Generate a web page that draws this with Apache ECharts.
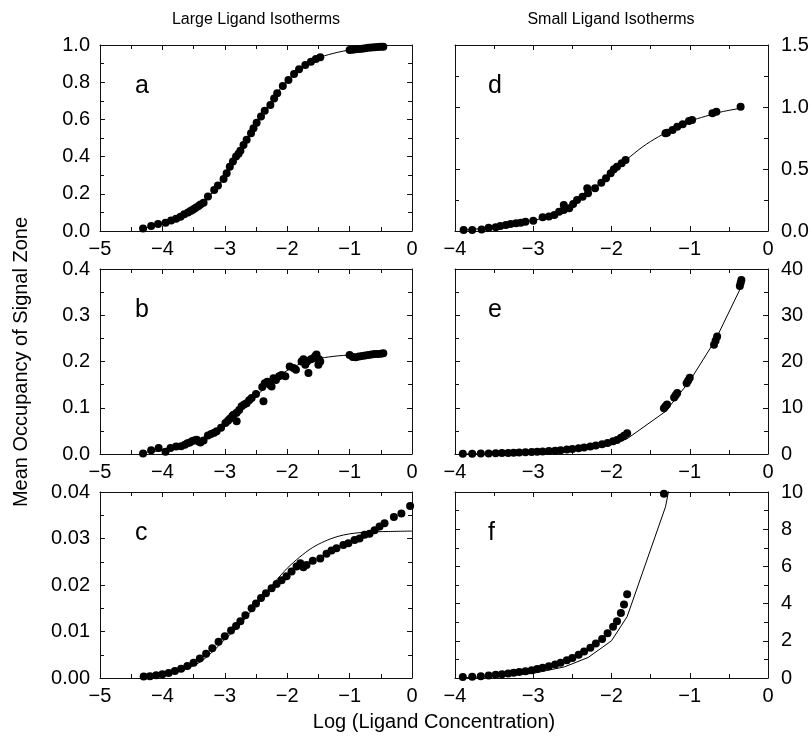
<!DOCTYPE html>
<html><head><meta charset="utf-8">
<script src="https://cdn.jsdelivr.net/npm/echarts@6.0.0/dist/echarts.min.js"></script>
<style>html,body{margin:0;padding:0;background:#fff}#c{width:812px;height:739px}</style>
</head><body><div id="c"></div>
<script>
const panelLetters = ['a','b','c','d','e','f'];
const columnTitles = ['Large Ligand Isotherms','Small Ligand Isotherms'];
const yAxisTitle = 'Mean Occupancy of Signal Zone';
const xAxisTitle = 'Log (Ligand Concentration)';

// panel a
const aPoints = [[-4.31,0.013],[-4.18,0.027],[-4.07,0.038],[-3.95,0.045],[-3.86,0.056],[-3.78,0.066],[-3.71,0.077],[-3.65,0.09],[-3.59,0.10],[-3.55,0.107],[-3.52,0.113],[-3.49,0.12],[-3.46,0.127],[-3.42,0.134],[-3.39,0.142],[-3.34,0.152],[-3.27,0.185],[-3.17,0.22],[-3.11,0.245],[-3.02,0.28],[-2.97,0.31],[-2.92,0.346],[-2.87,0.373],[-2.82,0.40],[-2.78,0.415],[-2.75,0.432],[-2.70,0.462],[-2.65,0.49],[-2.58,0.525],[-2.54,0.552],[-2.49,0.582],[-2.42,0.615],[-2.36,0.647],[-2.27,0.677],[-2.21,0.713],[-2.16,0.74],[-2.07,0.78],[-1.98,0.812],[-1.89,0.844],[-1.81,0.869],[-1.71,0.892],[-1.62,0.91],[-1.54,0.925],[-1.47,0.934],[-1.0,0.973],[-0.95,0.975],[-0.9,0.977],[-0.85,0.979],[-0.8,0.98],[-0.75,0.983],[-0.7,0.985],[-0.65,0.986],[-0.6,0.988],[-0.55,0.989],[-0.5,0.99],[-0.46,0.991]];
const aFit = [[-4.31,0.013],[-4.0,0.042],[-3.7,0.08],[-3.5,0.115],[-3.3,0.17],[-3.1,0.245],[-2.9,0.35],[-2.7,0.46],[-2.5,0.575],[-2.3,0.67],[-2.1,0.77],[-1.9,0.84],[-1.7,0.895],[-1.47,0.934],[-1.2,0.96],[-1.0,0.973],[-0.7,0.985],[-0.46,0.991]];

// panel b
const bPoints = [[-4.31,0.001],[-4.18,0.008],[-4.06,0.013],[-3.95,0.005],[-3.87,0.013],[-3.78,0.016],[-3.70,0.017],[-3.64,0.02],[-3.6,0.023],[-3.56,0.025],[-3.52,0.028],[-3.48,0.03],[-3.45,0.031],[-3.42,0.027],[-3.39,0.025],[-3.34,0.029],[-3.27,0.04],[-3.22,0.043],[-3.17,0.046],[-3.13,0.049],[-3.06,0.057],[-2.99,0.067],[-2.95,0.072],[-2.92,0.076],[-2.88,0.082],[-2.86,0.085],[-2.81,0.089],[-2.81,0.071],[-2.77,0.095],[-2.73,0.103],[-2.69,0.107],[-2.65,0.11],[-2.61,0.116],[-2.57,0.121],[-2.5,0.13],[-2.38,0.114],[-2.4,0.145],[-2.36,0.153],[-2.32,0.156],[-2.28,0.15],[-2.25,0.146],[-2.22,0.164],[-2.18,0.16],[-2.13,0.168],[-2.09,0.171],[-2.03,0.168],[-1.96,0.189],[-1.9,0.186],[-1.86,0.182],[-1.77,0.2],[-1.74,0.205],[-1.71,0.193],[-1.68,0.2],[-1.66,0.175],[-1.62,0.205],[-1.58,0.207],[-1.55,0.212],[-1.53,0.215],[-1.5,0.193],[-1.49,0.205],[-1.47,0.2],[-1.0,0.214],[-0.95,0.21],[-0.9,0.209],[-0.85,0.211],[-0.8,0.212],[-0.75,0.213],[-0.7,0.214],[-0.65,0.215],[-0.6,0.216],[-0.55,0.216],[-0.5,0.217],[-0.46,0.218]];
const bFit = [[-4.31,0.003],[-4.0,0.008],[-3.7,0.017],[-3.5,0.026],[-3.3,0.037],[-3.1,0.052],[-2.9,0.075],[-2.7,0.1],[-2.5,0.125],[-2.3,0.15],[-2.1,0.172],[-1.9,0.188],[-1.7,0.2],[-1.47,0.207],[-1.2,0.212],[-1.0,0.214],[-0.7,0.216],[-0.46,0.217]];

// panel c
const cPoints = [[-4.3,0.0003],[-4.2,0.0004],[-4.1,0.0006],[-4.0,0.0008],[-3.9,0.0011],[-3.8,0.0015],[-3.7,0.002],[-3.6,0.0026],[-3.5,0.0033],[-3.4,0.0042],[-3.3,0.0052],[-3.2,0.0064],[-3.1,0.0078],[-3.0,0.009],[-2.9,0.0102],[-2.82,0.0112],[-2.75,0.0122],[-2.67,0.0135],[-2.57,0.015],[-2.5,0.016],[-2.42,0.0172],[-2.34,0.0182],[-2.25,0.0193],[-2.17,0.0202],[-2.09,0.021],[-2.01,0.0219],[-1.93,0.0229],[-1.85,0.024],[-1.79,0.0247],[-1.74,0.0238],[-1.69,0.0243],[-1.59,0.0252],[-1.47,0.0257],[-1.37,0.0267],[-1.29,0.0274],[-1.21,0.0279],[-1.1,0.0286],[-1.02,0.029],[-0.92,0.0297],[-0.84,0.030],[-0.76,0.0308],[-0.68,0.031],[-0.6,0.0318],[-0.52,0.0326],[-0.44,0.0333],[-0.29,0.0346],[-0.17,0.0354],[-0.03,0.037]];
const cFit = [[-4.3,0.0002],[-4.0,0.0006],[-3.7,0.0015],[-3.4,0.0034],[-3.2,0.0056],[-3.0,0.0083],[-2.8,0.0108],[-2.6,0.014],[-2.4,0.0173],[-2.2,0.0206],[-2.0,0.0236],[-1.8,0.026],[-1.6,0.028],[-1.4,0.0294],[-1.2,0.0304],[-1.0,0.031],[-0.7,0.0314],[-0.4,0.0315],[0,0.0316]];

// panel d
const dPoints = [[-3.89,0.008],[-3.78,0.008],[-3.66,0.013],[-3.57,0.027],[-3.48,0.03],[-3.42,0.04],[-3.35,0.048],[-3.29,0.056],[-3.22,0.062],[-3.16,0.067],[-3.10,0.075],[-3.0,0.083],[-2.88,0.11],[-2.80,0.116],[-2.73,0.129],[-2.67,0.156],[-2.61,0.21],[-2.61,0.17],[-2.54,0.183],[-2.49,0.218],[-2.44,0.25],[-2.37,0.277],[-2.31,0.344],[-2.30,0.304],[-2.21,0.344],[-2.13,0.39],[-2.07,0.425],[-2.01,0.465],[-1.97,0.497],[-1.93,0.519],[-1.87,0.546],[-1.82,0.573],[-1.31,0.788],[-1.29,0.793],[-1.22,0.815],[-1.16,0.841],[-1.09,0.86],[-1.01,0.887],[-0.97,0.895],[-0.71,0.949],[-0.66,0.962],[-0.35,1.003]];
const dFit = [[-3.89,0.008],[-3.5,0.03],[-3.0,0.085],[-2.7,0.14],[-2.5,0.215],[-2.3,0.31],[-2.1,0.41],[-1.9,0.53],[-1.8,0.58],[-1.6,0.68],[-1.4,0.76],[-1.2,0.825],[-1.0,0.885],[-0.8,0.925],[-0.6,0.96],[-0.35,0.99]];

// panels e and f (f is an enlarged view of e)
const ePoints = [[-3.9,0.05],[-3.78,0.07],[-3.67,0.1],[-3.57,0.13],[-3.48,0.17],[-3.4,0.2],[-3.32,0.24],[-3.25,0.28],[-3.18,0.32],[-3.1,0.36],[-3.02,0.42],[-2.95,0.48],[-2.88,0.55],[-2.8,0.63],[-2.72,0.72],[-2.65,0.82],[-2.57,0.95],[-2.5,1.08],[-2.42,1.25],[-2.35,1.42],[-2.27,1.62],[-2.2,1.85],[-2.12,2.1],[-2.05,2.4],[-1.98,2.75],[-1.93,3.05],[-1.88,3.5],[-1.84,3.95],[-1.8,4.5],[-1.33,9.9],[-1.31,10.3],[-1.29,10.7],[-1.2,12.2],[-1.18,12.7],[-1.16,13.2],[-1.04,15.3],[-1.02,15.9],[-1.0,16.5],[-0.69,23.6],[-0.67,24.5],[-0.65,25.4],[-0.36,36.3],[-0.35,37.0],[-0.34,37.6]];
const eFit = [[-3.9,0.02],[-3.5,0.08],[-3.0,0.25],[-2.6,0.6],[-2.3,1.1],[-2.0,2.0],[-1.8,3.3],[-1.31,9.2],[-1.0,15.8],[-0.67,24.7],[-0.35,35.9]];

const panelPoints = [aPoints,bPoints,cPoints,dPoints,ePoints,ePoints];
const panelFits = [aFit,bFit,cFit,dFit,eFit,eFit];
const xMin = [-5,-5,-5,-4,-4,-4];
const yMax = [1.0,0.4,0.04,1.5,40,10];
const yStep = [0.2,0.1,0.01,0.5,10,2];
const yDecimals = [1,1,2,1,0,0];

const grids = [
  {left:100, top:45, width:312, height:186},
  {left:100, top:269, width:312, height:185},
  {left:100, top:492, width:312, height:186},
  {left:455, top:45, width:313, height:186},
  {left:455, top:269, width:313, height:185},
  {left:455, top:492, width:313, height:186}
];

const FONT = 'Liberation Sans, Arial, Helvetica, sans-serif';
const INK = '#111';
function fmt(v, d){ const s = Math.abs(v).toFixed(d); return (v < -1e-9 ? '\u2212' : '') + s; }

const xAxes = [], yAxes = [], series = [];
grids.forEach((g, i) => {
  const right = i >= 3;
  const common = {
    type:'value', gridIndex:i, splitLine:{show:false}, minorSplitLine:{show:false},
    axisLine:{show:true, onZero:false, lineStyle:{color:INK, width:1}},
    axisTick:{show:true, inside:true, length:5, lineStyle:{color:INK, width:1}},
    minorTick:{show:true, splitNumber:2, length:4, lineStyle:{color:INK, width:1}}
  };
  xAxes.push(Object.assign({}, common, {position:'bottom', min:xMin[i], max:0, interval:1,
    axisLabel:{show:true, margin:8, fontSize:20, fontFamily:FONT, color:'#000', formatter:v=>fmt(v,0)}}));
  xAxes.push(Object.assign({}, common, {position:'top', min:xMin[i], max:0, interval:1, axisLabel:{show:false}}));
  yAxes.push(Object.assign({}, common, {position:right?'right':'left', min:0, max:yMax[i], interval:yStep[i],
    axisLabel:{show:true, margin:right?13:10, fontSize:20, fontFamily:FONT, color:'#000', formatter:v=>fmt(v,yDecimals[i])}}));
  yAxes.push(Object.assign({}, common, {position:right?'left':'right', min:0, max:yMax[i], interval:yStep[i], axisLabel:{show:false}}));
  series.push({type:'line', xAxisIndex:2*i, yAxisIndex:2*i, data:panelFits[i], showSymbol:false, symbol:'none',
    smooth: i >= 4 ? false : 0.3, lineStyle:{color:'#000', width:1, opacity:1}, z:2, clip:true, silent:true, animation:false});
  series.push({type:'scatter', xAxisIndex:2*i, yAxisIndex:2*i, data:panelPoints[i], symbol:'circle', symbolSize:8,
    itemStyle:{color:'#000', opacity:1, borderWidth:0}, z:3, clip:true, silent:true, animation:false});
});

const graphics = [];
const titleX = [256, 611];
columnTitles.forEach((t, k) => graphics.push({type:'text', x:titleX[k], y:20,
  style:{text:t, font:'16px ' + FONT, fill:'#000', textAlign:'center', textVerticalAlign:'middle'}}));
panelLetters.forEach((L, i) => {
  const g = grids[i];
  graphics.push({type:'text', x:g.left + (i>=3 ? 33 : 35), y:g.top + 54,
    style:{text:L, font:'25px ' + FONT, fill:'#000', textAlign:'left', textVerticalAlign:'bottom'}});
});
graphics.push({type:'text', x:21, y:362, rotation:Math.PI/2,
  style:{text:yAxisTitle, font:'20px ' + FONT, fill:'#000', textAlign:'center', textVerticalAlign:'middle'}});
graphics.push({type:'text', x:434, y:722,
  style:{text:xAxisTitle, font:'20px ' + FONT, fill:'#000', textAlign:'center', textVerticalAlign:'middle'}});

const chart = echarts.init(document.getElementById('c'), null, {renderer:'canvas'});
chart.setOption({
  animation:false, backgroundColor:'#fff',
  grid: grids.map(g => Object.assign({containLabel:false, outerBoundsMode:'none'}, g)),
  xAxis: xAxes, yAxis: yAxes, series: series, graphic: graphics
});
</script></body></html>
